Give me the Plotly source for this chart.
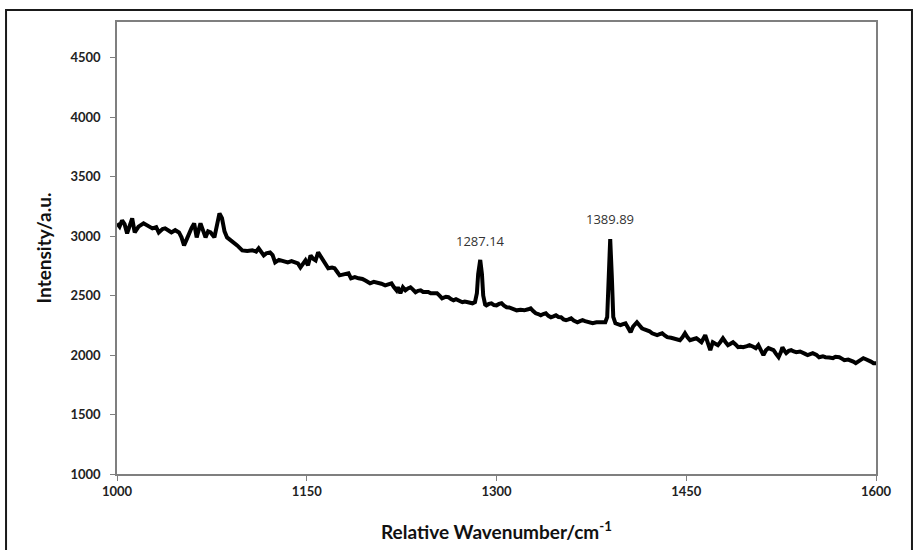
import plotly.graph_objects as go

wavenumber = [
    1000, 1002, 1004, 1006, 1008, 1010, 1012, 1014, 1017, 1021, 1024, 1028, 1031, 1033, 1036, 1038,
    1041, 1043, 1046, 1049, 1051, 1053, 1055, 1057, 1059, 1061, 1063, 1066, 1068, 1070, 1072, 1074,
    1077, 1079, 1081, 1083, 1085, 1087, 1091, 1095, 1099, 1103, 1107, 1110, 1112, 1114, 1116, 1118,
    1121, 1123, 1125, 1128, 1130, 1133, 1135, 1138, 1141, 1143, 1145, 1147, 1149, 1151, 1153, 1155,
    1157, 1159, 1161, 1163, 1165, 1167, 1170, 1172, 1174, 1176, 1180, 1183, 1185, 1188, 1191, 1194,
    1196, 1198, 1200, 1203, 1206, 1209, 1212, 1215, 1217, 1219, 1221, 1222, 1224, 1226, 1228, 1230,
    1232, 1234, 1236, 1238, 1240, 1242, 1244, 1246, 1248, 1251, 1253, 1255, 1257, 1260, 1262, 1264,
    1266, 1268, 1270, 1272, 1273, 1275, 1277, 1279, 1281, 1283, 1284.5, 1285.5, 1287.14, 1288.5, 1289.5, 1291,
    1292, 1294, 1296, 1298, 1300, 1302, 1304, 1306, 1308, 1310, 1312, 1314, 1316, 1319, 1322, 1325,
    1327, 1329, 1331, 1333, 1335, 1337, 1339, 1341, 1343, 1345, 1347, 1349, 1351, 1353, 1355, 1357,
    1359, 1361, 1364, 1366, 1368, 1370, 1372, 1374, 1376, 1379, 1382, 1384, 1386, 1387.5, 1388.6, 1389.89,
    1391.2, 1392.3, 1394, 1396, 1398, 1400, 1402, 1404, 1406, 1408, 1411, 1413, 1415, 1417, 1419, 1421,
    1423, 1425, 1427, 1429, 1431, 1433, 1435, 1438, 1440, 1442, 1445, 1447, 1449, 1451, 1453, 1456,
    1458, 1460, 1462, 1465, 1467, 1469, 1471, 1473, 1475, 1477, 1479, 1481, 1483, 1485, 1487, 1489,
    1491, 1493, 1495, 1498, 1500, 1503, 1505, 1507, 1509, 1511, 1513, 1515, 1517, 1519, 1521, 1523,
    1525, 1526, 1528, 1529, 1531, 1533, 1535, 1537, 1540, 1542, 1544, 1546, 1548, 1550, 1553, 1555,
    1558, 1560, 1563, 1566, 1568, 1571, 1573, 1575, 1578, 1580, 1582, 1584, 1587, 1590, 1592, 1594,
    1596, 1598, 1600,
]

intensity = [
    3107, 3080, 3132, 3100, 3023, 3090, 3149, 3031, 3080, 3107, 3090, 3065, 3075, 3031, 3060, 3065,
    3045, 3031, 3050, 3031, 2990, 2922, 2970, 3031, 3070, 3107, 2989, 3107, 3040, 2989, 3040, 3031,
    2989, 3100, 3191, 3150, 3040, 2989, 2960, 2922, 2880, 2875, 2880, 2870, 2897, 2860, 2838, 2855,
    2863, 2840, 2779, 2800, 2796, 2790, 2779, 2790, 2779, 2770, 2737, 2770, 2796, 2754, 2838, 2810,
    2796, 2863, 2830, 2796, 2760, 2729, 2735, 2729, 2700, 2670, 2680, 2687, 2645, 2655, 2645, 2640,
    2628, 2620, 2603, 2615, 2611, 2600, 2586, 2595, 2603, 2570, 2544, 2570, 2519, 2569, 2544, 2560,
    2569, 2550, 2528, 2540, 2544, 2530, 2528, 2530, 2519, 2515, 2519, 2500, 2477, 2490, 2486, 2470,
    2460, 2470, 2460, 2450, 2444, 2450, 2444, 2440, 2435, 2445, 2520, 2680, 2800, 2680, 2500, 2425,
    2418, 2430, 2435, 2420, 2418, 2430, 2435, 2415, 2402, 2400, 2393, 2385, 2376, 2380, 2376, 2385,
    2393, 2370, 2351, 2345, 2334, 2345, 2351, 2330, 2318, 2325, 2334, 2320, 2318, 2300, 2293, 2300,
    2309, 2290, 2276, 2285, 2293, 2285, 2276, 2270, 2267, 2275, 2276, 2270, 2276, 2320, 2650, 2975,
    2650, 2320, 2267, 2260, 2251, 2260, 2267, 2230, 2192, 2240, 2276, 2250, 2225, 2215, 2208, 2200,
    2183, 2175, 2167, 2175, 2183, 2165, 2150, 2145, 2141, 2135, 2125, 2150, 2183, 2150, 2125, 2135,
    2141, 2125, 2108, 2167, 2100, 2041, 2108, 2095, 2083, 2110, 2141, 2110, 2083, 2095, 2108, 2090,
    2066, 2070, 2066, 2075, 2083, 2070, 2058, 2083, 2040, 1999, 2040, 2058, 2050, 2041, 2010, 1982,
    2030, 2066, 2030, 2016, 2035, 2041, 2030, 2024, 2030, 2024, 2010, 1999, 2010, 2016, 2000, 1982,
    1990, 1982, 1980, 1974, 1985, 1982, 1970, 1957, 1962, 1957, 1945, 1932, 1955, 1974, 1965, 1957,
    1945, 1932, 1932,
]

peak_positions = [1287.14, 1389.89]
peak_labels = ["1287.14", "1389.89"]
peak_label_heights = [2956, 3140]

x_ticks = [1000, 1150, 1300, 1450, 1600]
y_ticks = [1000, 1500, 2000, 2500, 3000, 3500, 4000, 4500]

fig = go.Figure()
fig.add_trace(go.Scatter(
    x=wavenumber, y=intensity, mode="lines",
    line=dict(color="black", width=4),
    showlegend=False, hoverinfo="x+y",
))

for xp, lab, yh in zip(peak_positions, peak_labels, peak_label_heights):
    fig.add_annotation(x=xp, y=yh, text=lab, showarrow=False,
                       font=dict(family="Open Sans", size=13, color="#333333"),
                       xanchor="center", yanchor="middle")

tick_font = dict(family="Lato", size=13, color="#222222", weight="bold")
title_font = dict(family="Lato", size=19, color="#111111", weight="bold")

fig.update_xaxes(
    range=[1000, 1600], tickvals=x_ticks, ticktext=[str(v) for v in x_ticks],
    showgrid=False, zeroline=False, showline=True, linecolor="#7f7f7f", linewidth=1.5,
    mirror=True, ticks="outside", ticklen=5, tickcolor="#7f7f7f", tickwidth=1.2,
    tickfont=tick_font, automargin=False,
    title=dict(text="Relative Wavenumber/cm<sup>-1</sup>", font=title_font, standoff=27),
)
fig.update_yaxes(
    range=[1000, 4800], tickvals=y_ticks, ticktext=[str(v) for v in y_ticks],
    showgrid=False, zeroline=False, showline=True, linecolor="#7f7f7f", linewidth=1.5,
    mirror=True, ticks="outside", ticklen=5, tickcolor="#7f7f7f", tickwidth=1.2,
    tickfont=tick_font, ticklabelstandoff=7, automargin=False,
    title=dict(text="Intensity/a.u.", font=title_font, standoff=14),
)

fig.add_shape(type="rect", xref="paper", yref="paper",
              x0=-0.1462, x1=1.0474, y0=-0.175, y1=1.0265,
              line=dict(color="#1a1a1a", width=2))

fig.update_layout(
    width=915, height=550,
    margin=dict(l=117, r=39, t=22, b=76),
    plot_bgcolor="white", paper_bgcolor="white",
)

fig.write_html("out.html")
